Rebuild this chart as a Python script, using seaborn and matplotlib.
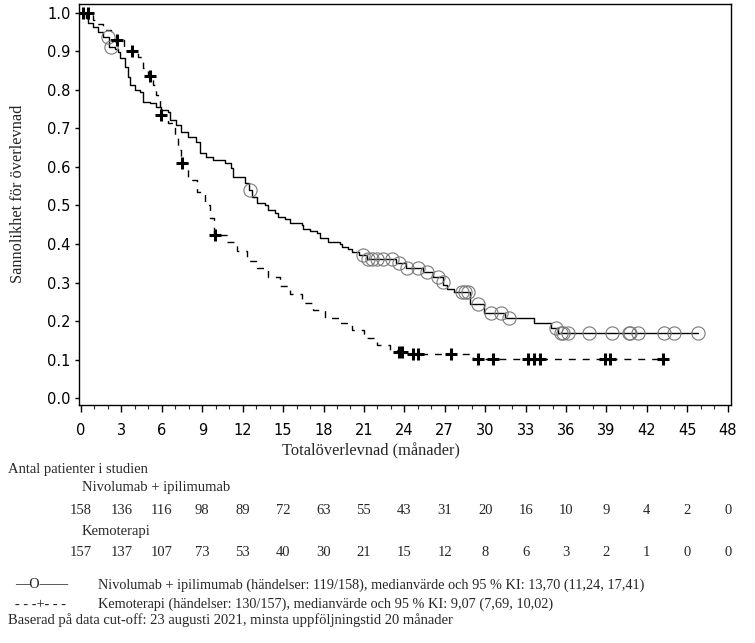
import numpy as np
import pandas as pd
import matplotlib
matplotlib.use("Agg")
import matplotlib.pyplot as plt
import seaborn as sns

# Kaplan-Meier steps (time of drop, survival after drop)
nivo_t = [0, 0.37, 0.52, 0.89, 1.26, 1.64, 2.10, 2.53, 2.75, 2.90, 3.27, 3.49, 3.64,
          4.01, 4.39, 4.61, 5.13, 5.58, 5.95, 6.47, 6.62, 7.06, 7.43, 7.96, 8.55,
          8.85, 9.29, 9.81, 10.70, 11.15, 11.30, 12.19, 12.45, 12.71, 13.09, 13.68,
          13.90, 14.42, 14.65, 15.17, 15.54, 16.43, 16.50, 17.03, 17.55, 17.77,
          18.36, 19.26, 19.40, 19.85, 20.15, 20.60, 21.20, 23.40, 24.10, 25.35,
          26.10, 26.84, 26.90, 27.20, 27.66, 28.90, 29.90, 31.50, 33.60, 34.87,
          35.40, 45.80]
nivo_s = [1.0, 0.987, 0.974, 0.964, 0.950, 0.937, 0.912, 0.906, 0.899, 0.883, 0.860,
          0.834, 0.813, 0.800, 0.795, 0.769, 0.766, 0.756, 0.748, 0.743, 0.722,
          0.709, 0.691, 0.678, 0.665, 0.636, 0.626, 0.618, 0.610, 0.597, 0.574,
          0.558, 0.540, 0.522, 0.506, 0.501, 0.488, 0.480, 0.470, 0.465, 0.455,
          0.449, 0.439, 0.434, 0.429, 0.416, 0.405, 0.401, 0.392, 0.388, 0.379,
          0.371, 0.360, 0.350, 0.338, 0.327, 0.314, 0.301, 0.293, 0.283, 0.275,
          0.245, 0.221, 0.208, 0.195, 0.182, 0.168, 0.168]
nivo_cens = [2.0, 2.2, 12.56, 20.9, 21.3, 21.6, 22.0, 22.4, 23.1, 23.6, 24.2, 25.05,
             25.7, 26.5, 26.84, 28.3, 28.5, 28.7, 29.44, 30.4, 31.15, 31.75, 35.24,
             35.6, 35.76, 36.13, 37.7, 39.4, 40.67, 40.75, 41.34, 43.27, 44.0, 45.8]

chemo_t = [0, 0.89, 1.04, 1.64, 2.20, 3.20, 4.24, 4.61, 4.95, 5.35, 5.58, 5.72, 5.85,
           6.47, 6.99, 7.21, 7.45, 7.96, 8.62, 9.22, 9.59, 9.85, 10.86, 11.60, 12.34,
           13.09, 13.90, 14.80, 15.54, 16.43, 17.25, 18.14, 19.26, 20.15, 20.97,
           22.00, 22.97, 23.50, 24.30, 29.10, 43.20]
chemo_s = [1.0, 0.982, 0.970, 0.956, 0.930, 0.900, 0.886, 0.857, 0.836, 0.813, 0.787,
           0.774, 0.735, 0.714, 0.678, 0.644, 0.610, 0.566, 0.535, 0.501, 0.468,
           0.423, 0.405, 0.382, 0.356, 0.338, 0.313, 0.291, 0.270, 0.247, 0.229,
           0.208, 0.195, 0.177, 0.156, 0.138, 0.125, 0.119, 0.114, 0.101, 0.101]
chemo_cens = [0.15, 0.5, 2.7, 3.8, 5.1, 5.95, 7.5, 9.96, 23.6, 23.8, 24.68, 24.98,
              27.43, 29.44, 30.56, 33.16, 33.6, 34.05, 38.88, 39.26, 43.2]

risk_times = list(range(0, 49, 3))
nivo_risk = [158, 136, 116, 98, 89, 72, 63, 55, 43, 31, 20, 16, 10, 9, 4, 2, 0]
chemo_risk = [157, 137, 107, 73, 53, 40, 30, 21, 15, 12, 8, 6, 3, 2, 1, 0, 0]


def at_time(times, surv, pts):
    idx = np.searchsorted(times, pts, side="right") - 1
    return np.asarray(surv)[idx]


sns.set_theme(style="white")
plt.rcParams["font.family"] = ["DejaVu Sans"]
serif = ["Liberation Serif", "DejaVu Serif"]

W, H = 755, 643
fig = plt.figure(figsize=(W / 100, H / 100), dpi=100)
ax = fig.add_axes([79 / W, 1 - 405 / H, (731 - 79) / W, 401 / H])

nivo = pd.DataFrame({"t": nivo_t, "s": nivo_s})
chemo = pd.DataFrame({"t": chemo_t, "s": chemo_s})

sns.lineplot(data=nivo, x="t", y="s", drawstyle="steps-post", estimator=None,
             sort=False, color="black", lw=1.0, ax=ax)
sns.lineplot(data=chemo, x="t", y="s", drawstyle="steps-post", estimator=None,
             sort=False, color="black", lw=1.0, linestyle=(0, (5, 5)), ax=ax)

ax.plot(nivo_cens, at_time(nivo_t, nivo_s, nivo_cens), ls="none", marker="o",
        mfc="none", mec="#7a7a7a", ms=9.5, mew=0.8, zorder=4)
ax.plot(chemo_cens, at_time(chemo_t, chemo_s, chemo_cens), ls="none", marker="+",
        color="black", ms=8.5, mew=2.2, zorder=4)

ax.set_xlim(-0.15, 48.25)
ax.set_ylim(-0.018, 1.023)
ax.set_xticks(risk_times)
ax.set_xticks(range(0, 49), minor=True)
ax.set_yticks(np.arange(0, 1.01, 0.1))
ax.set_yticklabels([f"{v:.1f}" for v in np.arange(0, 1.01, 0.1)])
ax.set_xlabel("")
ax.set_ylabel("")
ax.tick_params(axis="x", which="major", direction="out", length=5, width=1,
               pad=8, labelsize=10.5, colors="black", bottom=True)
ax.tick_params(axis="x", which="minor", direction="out", length=3, width=0.8,
               bottom=True)
ax.tick_params(axis="y", direction="out", length=3, width=1, pad=3,
               labelsize=10.5, colors="black", left=True)
for sp in ax.spines.values():
    sp.set_color("black")
    sp.set_linewidth(1.0)

fs = 10.3
lab_fs = 11.8
fig.text(371 / W, 1 - 451 / H, "Totalöverlevnad (månader)", ha="center",
         va="center", fontsize=lab_fs, family=serif)
fig.text(18 / W, 1 - 194 / H, "Sannolikhet för överlevnad", ha="center",
         va="center", rotation=90, fontsize=lab_fs, family=serif)

# number at risk table
tr = ax.get_xaxis_transform()
pos = ax.get_position()
fig.text(8 / W, 1 - 469 / H, "Antal patienter i studien", ha="left",
         va="center", fontsize=10.5, family=serif)
fig.text(82 / W, 1 - 488 / H, "Nivolumab + ipilimumab", ha="left",
         va="center", fontsize=10.5, family=serif)
fig.text(82 / W, 1 - 531 / H, "Kemoterapi", ha="left", va="center",
         fontsize=10.5, family=serif)
y1 = (1 - 510 / H - pos.y0) / pos.height
y2 = (1 - 553 / H - pos.y0) / pos.height
for t, n1, n2 in zip(risk_times, nivo_risk, chemo_risk):
    ax.text(t, y1, str(n1), transform=tr, ha="center", va="center",
            fontsize=10.5, family=serif, clip_on=False)
    ax.text(t, y2, str(n2), transform=tr, ha="center", va="center",
            fontsize=10.5, family=serif, clip_on=False)

# legend
fig.text(15 / W, 1 - 585 / H, "—O——", ha="left", va="center", fontsize=fs,
         family=serif)
fig.text(15 / W, 1 - 604 / H, "- - -+- - -", ha="left", va="center",
         fontsize=fs, family=serif)
fig.text(98 / W, 1 - 585 / H,
         "Nivolumab + ipilimumab (händelser: 119/158), medianvärde och 95 % KI: "
         "13,70 (11,24, 17,41)", ha="left", va="center", fontsize=fs,
         family=serif)
fig.text(98 / W, 1 - 604 / H,
         "Kemoterapi (händelser: 130/157), medianvärde och 95 % KI: 9,07 (7,69, 10,02)",
         ha="left", va="center", fontsize=fs, family=serif)
fig.text(8 / W, 1 - 620 / H,
         "Baserad på data cut-off: 23 augusti 2021, minsta uppföljningstid 20 månader",
         ha="left", va="center", fontsize=10.5, family=serif)

fig.savefig("out.png", dpi=100)
